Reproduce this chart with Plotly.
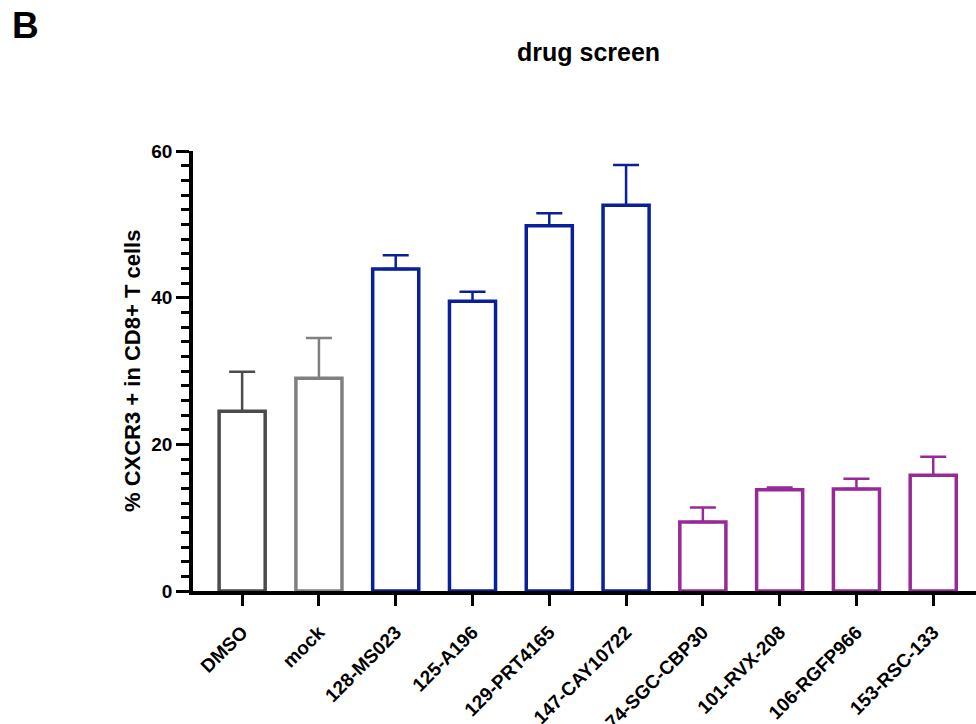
import plotly.graph_objects as go

# ---- data ----
categories = ["DMSO", "mock", "128-MS023", "125-A196", "129-PRT4165",
              "147-CAY10722", "74-SGC-CBP30", "101-RVX-208", "106-RGFP966", "153-RSC-133"]
means = [24.5, 29.0, 43.9, 39.5, 49.8, 52.6, 9.4, 13.8, 13.9, 15.8]
upper = [29.9, 34.5, 45.8, 40.8, 51.5, 58.1, 11.4, 14.1, 15.3, 18.3]
y_ticks = [0, 20, 40, 60]
y_minor_step = 2

# ---- styles ----
GRAY_D = "#4b4b4b"
GRAY_L = "#808080"
BLUE = "#0a1f9a"
PURPLE = "#982a97"
bar_colors = [GRAY_D, GRAY_L, BLUE, BLUE, BLUE, BLUE, PURPLE, PURPLE, PURPLE, PURPLE]

FONT = "Liberation Sans, Arial, Helvetica, sans-serif"

fig = go.Figure()
for cat, m, u, col in zip(categories, means, upper, bar_colors):
    fig.add_trace(go.Bar(
        x=[cat], y=[m],
        width=0.6,
        marker=dict(color="white", line=dict(color=col, width=3.5)),
        error_y=dict(type="data", symmetric=False, array=[u - m], arrayminus=[0],
                     color=col, thickness=2.5, width=13),
        showlegend=False,
        hoverinfo="x+y",
    ))

L, R, T, B = 193, 0, 151, 133
W, H = 976, 724
pw = W - L - R
ph = H - T - B

fig.update_layout(
    width=W, height=H,
    margin=dict(l=L, r=R, t=T, b=B, pad=0, autoexpand=False),
    paper_bgcolor="white", plot_bgcolor="white",
    barmode="overlay",
    font=dict(family=FONT, color="black"),
    xaxis=dict(
        type="category", categoryorder="array", categoryarray=categories,
        range=[-0.64, 9.557], automargin=False,
        showline=True, linecolor="black", linewidth=3.5,
        ticks="outside", ticklen=11, tickwidth=3, tickcolor="black",
        tickangle=-45, ticklabelstandoff=8,
        tickfont=dict(family=FONT, size=19, color="black", weight="bold"),
        showgrid=False, zeroline=False, layer="above traces",
    ),
    yaxis=dict(
        range=[y_ticks[0], y_ticks[-1]], automargin=False,
        tickmode="linear", tick0=y_ticks[0], dtick=y_ticks[1] - y_ticks[0],
        showline=True, linecolor="black", linewidth=3.5,
        ticks="outside", ticklen=13, tickwidth=3, tickcolor="black",
        tickfont=dict(family=FONT, size=19, color="black", weight="bold"),
        minor=dict(tickmode="linear", tick0=y_ticks[0], dtick=y_minor_step,
                   ticks="outside", ticklen=8, tickwidth=3, tickcolor="black",
                   showgrid=False),
        showgrid=False, zeroline=False, layer="above traces",
    ),
    annotations=[
        dict(text="drug screen", xref="paper", yref="paper",
             x=(588 - L) / pw, y=(H - B - 52) / ph, xanchor="center", yanchor="middle",
             showarrow=False, font=dict(family=FONT, size=25, color="black", weight="bold")),
        dict(text="B", xref="paper", yref="paper",
             x=(10 - L) / pw, y=(H - B - 26) / ph, xanchor="left", yanchor="middle",
             showarrow=False, font=dict(family=FONT, size=37, color="black", weight="bold")),
        dict(text="% CXCR3 + in CD8+ T cells", xref="paper", yref="paper",
             x=(132 - L) / pw, y=0.5, xanchor="center", yanchor="middle", textangle=-90,
             showarrow=False, font=dict(family=FONT, size=22, color="black", weight="bold")),
    ],
)

fig.write_html("out.html")
